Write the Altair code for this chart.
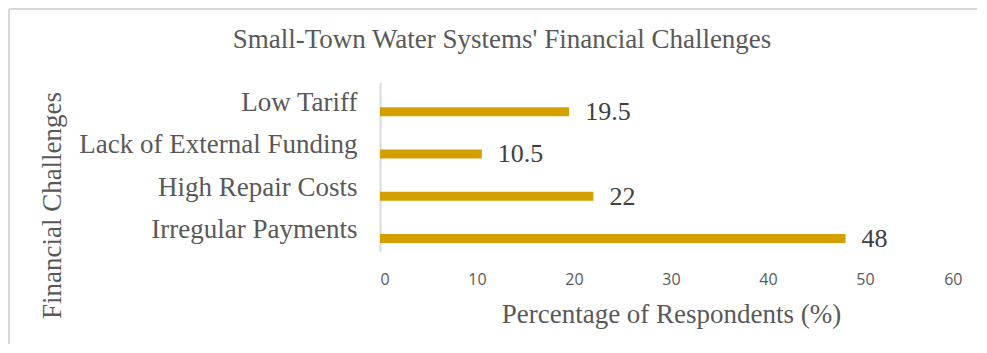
import altair as alt
import pandas as pd

categories = ["Low Tariff", "Lack of External Funding", "High Repair Costs", "Irregular Payments"]
values = [19.5, 10.5, 22, 48]
x_ticks = [0, 10, 20, 30, 40, 50, 60]

df = pd.DataFrame({"challenge": categories, "pct": values})

SERIF = "Liberation Serif"
GRAY = "#595959"

y_enc = alt.Y(
    "challenge:N",
    sort=categories,
    scale=alt.Scale(paddingInner=0, paddingOuter=0),
    axis=alt.Axis(
        title="Financial Challenges",
        titleFont=SERIF, titleFontSize=27, titleFontWeight="normal", titleColor=GRAY,
        titleAngle=270, titleAlign="center", titleBaseline="middle",
        titleX=-328, titleY=123,
        labelFont=SERIF, labelFontSize=27, labelColor=GRAY, labelPadding=23,
        labelLimit=400, ticks=False, domainColor="#d9d9d9", domainWidth=2,
        grid=False,
    ),
)
x_enc = alt.X(
    "pct:Q",
    scale=alt.Scale(domain=[0, 60], nice=False),
    axis=alt.Axis(
        values=x_ticks, title="Percentage of Respondents (%)",
        titleFont=SERIF, titleFontSize=27, titleFontWeight="normal", titleColor=GRAY,
        titleBaseline="middle", titleY=63,
        labelFont="Open Sans", labelFontSize=16, labelColor=GRAY, labelPadding=20,
        ticks=False, domain=False, grid=False,
    ),
)

bars = alt.Chart(df).mark_bar(color="#D4A000", size=9, yOffset=8.5).encode(x=x_enc, y=y_enc)
texts = alt.Chart(df).mark_text(
    align="left", baseline="middle", dx=16, dy=9, font=SERIF, fontSize=26, color="#404040"
).encode(x="pct:Q", y=alt.Y("challenge:N", sort=categories), text=alt.Text("pct:Q", format="~g"))

left_border = alt.Chart(df).mark_rule(color="#d9d9d9", strokeWidth=2).encode(
    x=alt.value(-371), y=alt.value(-73), y2=alt.value(262)
)
top_border = alt.Chart(df).mark_rule(color="#d9d9d9", strokeWidth=2).encode(
    x=alt.value(-371), x2=alt.value(597), y=alt.value(-73)
)

chart = alt.layer(left_border, top_border, bars, texts).properties(
    width=582,
    height=169,
    title=alt.TitleParams(
        "Small-Town Water Systems' Financial Challenges",
        font=SERIF, fontSize=27, fontWeight="normal", color=GRAY,
        anchor="middle", frame="bounds", offset=-46, dx=9,
    ),
    autosize=alt.AutoSizeParams(type="none"),
    padding={"left": 372, "top": 74, "right": 16, "bottom": 94},
).configure_view(stroke=None)

chart.save("out.html", embed_options={"renderer": "svg", "actions": False})
